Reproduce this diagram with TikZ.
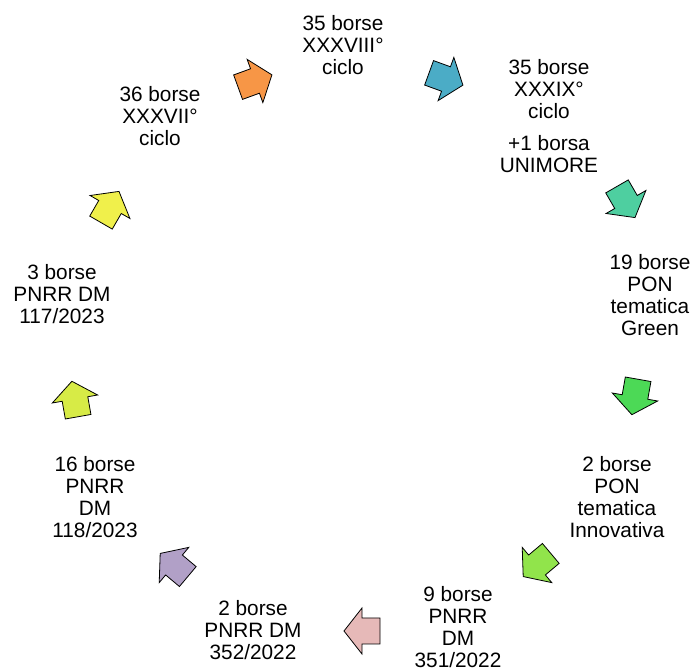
\documentclass[tikz,border=0pt]{standalone}
\usepackage{fontspec}
\setmainfont{Liberation Sans}

\definecolor{arancio}{RGB}{247,150,70}
\definecolor{azzurro}{RGB}{75,172,198}
\definecolor{acqua}{RGB}{78,207,160}
\definecolor{verde}{RGB}{76,217,86}
\definecolor{lime}{RGB}{145,228,75}
\definecolor{rosa}{RGB}{230,185,184}
\definecolor{lilla}{RGB}{177,160,199}
\definecolor{giallov}{RGB}{215,235,70}
\definecolor{giallo}{RGB}{240,240,75}

\begin{document}
\begin{tikzpicture}[x=0.75pt, y=-0.75pt,
  testo/.style={align=center, inner sep=0pt, font=\fontsize{15.6}{16.6}\selectfont},
  freccia/.style={draw=black, line width=0.6pt, line join=miter}]

  \useasboundingbox (0,0) rectangle (694,670);

  % Etichette del ciclo
  \node [testo] (ciclo38) at (343,45) {35 borse\\XXXVIII°\\ciclo};
  \node [testo] (ciclo39) at (549,116) {35 borse\\XXXIX°\\ciclo\\[7pt]+1 borsa\\UNIMORE};
  \node [testo] (green) at (650,295) {19 borse\\PON\\tematica\\Green};
  \node [testo] (innov) at (617,497) {2 borse\\PON\\tematica\\Innovativa};
  \node [testo] (dm351) at (458,627) {9 borse\\PNRR\\DM\\351/2022};
  \node [testo] (dm352) at (253,630) {2 borse\\PNRR DM\\352/2022};
  \node [testo] (dm118) at (95,497) {16 borse\\PNRR\\DM\\118/2023};
  \node [testo] (dm117) at (62,294) {3 borse\\PNRR DM\\117/2023};
  \node [testo] (ciclo37) at (160,116) {36 borse\\XXXVII°\\ciclo};

  % Frecce tra le etichette
  \foreach \x/\y/\a/\c in {255/81/20/arancio, 446/79/-20/azzurro,
      626/202/-60/acqua, 635/397/-100/verde, 537/565/-140/lime,
      362/631/180/rosa, 174/565/140/lilla, 75/399/100/giallov,
      110/207/60/giallo}
  \draw [freccia, fill=\c, shift={(\x,\y)}, rotate=\a]
    (-18,-13) -- (0,-13) -- (0,-23) -- (18,0) -- (0,23) -- (0,13) -- (-18,13) -- cycle;

\end{tikzpicture}
\end{document}
